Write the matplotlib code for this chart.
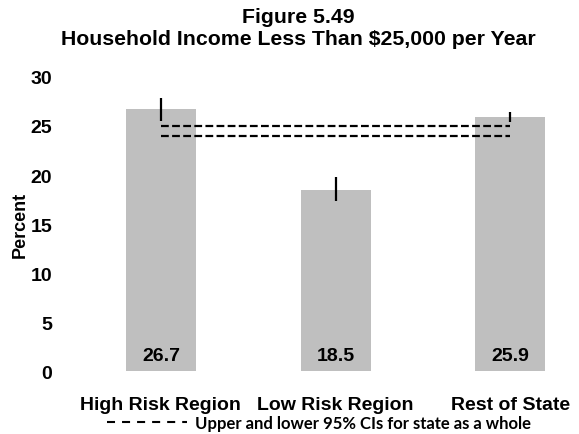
import matplotlib.pyplot as plt
import numpy as np
from matplotlib.lines import Line2D

plt.rcParams["font.family"] = ["Liberation Sans", "DejaVu Sans"]

regions = ["High Risk Region", "Low Risk Region", "Rest of State"]
percent = [26.7, 18.5, 25.9]
ci_low = [25.5, 17.3, 25.4]
ci_high = [27.9, 19.8, 26.4]
state_ci = [24.0, 25.0]
y_ticks = [0, 5, 10, 15, 20, 25, 30]

BAR = "#bfbfbf"
INK = "black"

fig = plt.figure(figsize=(5.79, 4.35), dpi=100)
ax = fig.add_axes([0.121, 0.1448, 0.872, 0.6759])

x = np.arange(len(regions))
ax.bar(x, percent, width=0.40, color=BAR, zorder=1)
ax.vlines(x, ci_low, ci_high, color=INK, linewidth=1.6, zorder=3)

for v in state_ci:
    ax.hlines(v, x[0], x[-1], color=INK, linewidth=1.6,
              linestyle=(0, (3.5, 1.5)), zorder=2)

for xi, v in zip(x, percent):
    ax.text(xi, 1.6, f"{v:.1f}", ha="center", va="center",
            fontsize=14, fontweight="bold", color=INK)

ax.set_xlim(-0.52, 2.37)
ax.set_ylim(0, 30)
ax.set_yticks(y_ticks)
ax.set_yticklabels([str(t) for t in y_ticks], fontsize=14, fontweight="bold")
ax.set_xticks(x)
ax.set_xticklabels(regions, fontsize=14, fontweight="bold")
ax.tick_params(length=0)
ax.tick_params(axis="y", pad=13)
ax.tick_params(axis="x", pad=18)
for s in ax.spines.values():
    s.set_visible(False)
ax.set_ylabel("Percent", fontsize=13, fontweight="bold", labelpad=1)

fig.text(0.515, 0.981, "Figure 5.49\nHousehold Income Less Than $25,000 per Year",
         ha="center", va="top", fontsize=15.3, fontweight="bold",
         linespacing=1.15)

handle = Line2D([], [], color=INK, linewidth=1.5, linestyle=(0, (3.85, 3.37)))
fig.legend([handle], ["Upper and lower 95% CIs for state as a whole"],
           loc="center", bbox_to_anchor=(0.551, 0.025), frameon=False,
           handlelength=4.8, handletextpad=0.45, borderpad=0.1,
           prop={"family": "Lato", "weight": "bold", "size": 12})

fig.savefig("out.png", dpi=100)
